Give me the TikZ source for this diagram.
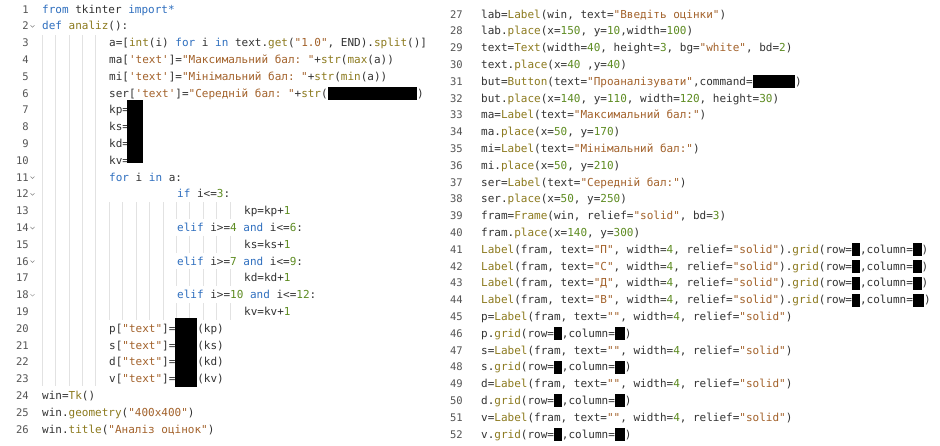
\documentclass[tikz,border=0pt]{standalone}
\usepackage{fontspec}
\setmonofont{DejaVu Sans Mono}
\definecolor{kwc}{HTML}{2F6FBF}
\definecolor{fnc}{HTML}{8C7A1E}
\definecolor{stc}{HTML}{A3622B}
\definecolor{nmc}{HTML}{5E8C22}
\definecolor{txc}{HTML}{333333}
\definecolor{lnc}{HTML}{555555}
\definecolor{gdc}{HTML}{E2E2E2}
\newlength\cw \setlength\cw{6.62pt}
\newcommand\kw[1]{\textcolor{kwc}{#1}}
\newcommand\fn[1]{\textcolor{fnc}{#1}}
\newcommand\st[1]{\textcolor{stc}{#1}}
\newcommand\nm[1]{\textcolor{nmc}{#1}}
\newcommand\rd[1]{\textcolor{black}{\rule[-3pt]{#1\cw}{13pt}}}
\newcommand\gapc[1]{\hspace*{#1\cw}}
\begin{document}
\begin{tikzpicture}[x=1pt,y=-1pt,
  code/.style={anchor=base west,inner sep=0pt,font=\ttfamily\fontsize{11}{13}\selectfont,text=txc},
  lnum/.style={anchor=base east,inner sep=0pt,font=\ttfamily\fontsize{10.5}{13}\selectfont,text=lnc},
  guide/.style={draw=gdc,line width=0.6pt},
  fold/.style={draw=lnc!70,line width=0.5pt},
  redact/.style={fill=black}]
\useasboundingbox (0,0) rectangle (940,445);
\fill[white] (0,0) rectangle (940,445);
% indent guides
\foreach \gx in {42,55,69,82,95} \draw[guide] (\gx,35) -- (\gx,386);
\foreach \gx in {109,122,136,149,163} \draw[guide] (\gx,202) -- (\gx,320);
\foreach \ln in {13,15,17,19}{
  \foreach \gx in {176,189,203,216,230}
    \draw[guide] ({\gx},{9+(\ln-1)*16.8-8.4}) -- ({\gx},{9+(\ln-1)*16.8+8.4});}
% left line numbers
\foreach \ln in {1,...,26} \node[lnum] (L\ln) at (29,{9+(\ln-1)*16.8+4}) {\ln};
\foreach \ln in {2,11,12,14,16,18}
  \draw[fold] (30.5,{9+(\ln-1)*16.8-0.5}) -- (32.5,{9+(\ln-1)*16.8+1.5}) -- (34.5,{9+(\ln-1)*16.8-0.5});
% left code
\def\ly#1{{9+(#1-1)*16.8+4}}
\node[code] (c1) at (42,\ly{1}) {\kw{from} tkinter \kw{import*}};
\node[code] (c2) at (42,\ly{2}) {\kw{def} \fn{analiz}():};
\node[code] (c3) at (109,\ly{3}) {a=[\fn{int}(i) \kw{for} i \kw{in} text.\fn{get}(\st{"1.0"}, END).\fn{split}()]};
\node[code] (c4) at (109,\ly{4}) {ma[\st{'text'}]=\st{"Максимальний бал: "}+\fn{str}(\fn{max}(a))};
\node[code] (c5) at (109,\ly{5}) {mi[\st{'text'}]=\st{"Мінімальний бал: "}+\fn{str}(\fn{min}(a))};
\node[code] (c6) at (109,\ly{6}) {ser[\st{'text'}]=\st{"Середній бал: "}+\fn{str}(\rd{13.5})};
\node[code] (c7) at (109,\ly{7}) {kp=};
\node[code] (c8) at (109,\ly{8}) {ks=};
\node[code] (c9) at (109,\ly{9}) {kd=};
\node[code] (c10) at (109,\ly{10}) {kv=};
\fill[redact] (127,100) rectangle (143,163);
\node[code] (c11) at (109,\ly{11}) {\kw{for} i \kw{in} a:};
\node[code] (c12) at (177,\ly{12}) {\kw{if} i<=\nm{3}:};
\node[code] (c13) at (244,\ly{13}) {kp=kp+\nm{1}};
\node[code] (c14) at (177,\ly{14}) {\kw{elif} i>=\nm{4} \kw{and} i<=\nm{6}:};
\node[code] (c15) at (244,\ly{15}) {ks=ks+\nm{1}};
\node[code] (c16) at (177,\ly{16}) {\kw{elif} i>=\nm{7} \kw{and} i<=\nm{9}:};
\node[code] (c17) at (244,\ly{17}) {kd=kd+\nm{1}};
\node[code] (c18) at (177,\ly{18}) {\kw{elif} i>=\nm{10} \kw{and} i<=\nm{12}:};
\node[code] (c19) at (244,\ly{19}) {kv=kv+\nm{1}};
\node[code] (c20) at (109,\ly{20}) {p[\st{"text"}]=\gapc{3.3}(kp)};
\node[code] (c21) at (109,\ly{21}) {s[\st{"text"}]=\gapc{3.3}(ks)};
\node[code] (c22) at (109,\ly{22}) {d[\st{"text"}]=\gapc{3.3}(kd)};
\node[code] (c23) at (109,\ly{23}) {v[\st{"text"}]=\gapc{3.3}(kv)};
\fill[redact] (175,318) rectangle (197,387);
\node[code] (c24) at (42,\ly{24}) {win=\fn{Tk}()};
\node[code] (c25) at (42,\ly{25}) {win.\fn{geometry}(\st{"400x400"})};
\node[code] (c26) at (42,\ly{26}) {win.\fn{title}(\st{"Аналіз оцінок"})};
% right line numbers
\foreach \ln in {27,...,52} \node[lnum] (R\ln) at (463,{14+(\ln-27)*16.8+4}) {\ln};
\def\ry#1{{14+(#1-27)*16.8+4}}
\node[code] (d27) at (481,\ry{27}) {lab=\fn{Label}(win, text=\st{"Введіть оцінки"})};
\node[code] (d28) at (481,\ry{28}) {lab.\fn{place}(x=\nm{150}, y=\nm{10},width=\nm{100})};
\node[code] (d29) at (481,\ry{29}) {text=\fn{Text}(width=\nm{40}, height=\nm{3}, bg=\st{"white"}, bd=\nm{2})};
\node[code] (d30) at (481,\ry{30}) {text.\fn{place}(x=\nm{40} ,y=\nm{40})};
\node[code] (d31) at (481,\ry{31}) {but=\fn{Button}(text=\st{"Проаналізувати"},command=\rd{6.4})};
\node[code] (d32) at (481,\ry{32}) {but.\fn{place}(x=\nm{140}, y=\nm{110}, width=\nm{120}, height=\nm{30})};
\node[code] (d33) at (481,\ry{33}) {ma=\fn{Label}(text=\st{"Максимальний бал:"})};
\node[code] (d34) at (481,\ry{34}) {ma.\fn{place}(x=\nm{50}, y=\nm{170})};
\node[code] (d35) at (481,\ry{35}) {mi=\fn{Label}(text=\st{"Мінімальний бал:"})};
\node[code] (d36) at (481,\ry{36}) {mi.\fn{place}(x=\nm{50}, y=\nm{210})};
\node[code] (d37) at (481,\ry{37}) {ser=\fn{Label}(text=\st{"Середній бал:"})};
\node[code] (d38) at (481,\ry{38}) {ser.\fn{place}(x=\nm{50}, y=\nm{250})};
\node[code] (d39) at (481,\ry{39}) {fram=\fn{Frame}(win, relief=\st{"solid"}, bd=\nm{3})};
\node[code] (d40) at (481,\ry{40}) {fram.\fn{place}(x=\nm{140}, y=\nm{300})};
\node[code] (d41) at (481,\ry{41}) {\fn{Label}(fram, text=\st{"П"}, width=\nm{4}, relief=\st{"solid"}).\fn{grid}(row=\rd{1.2},column=\rd{1.3})};
\node[code] (d42) at (481,\ry{42}) {\fn{Label}(fram, text=\st{"С"}, width=\nm{4}, relief=\st{"solid"}).\fn{grid}(row=\rd{1.2},column=\rd{1.3})};
\node[code] (d43) at (481,\ry{43}) {\fn{Label}(fram, text=\st{"Д"}, width=\nm{4}, relief=\st{"solid"}).\fn{grid}(row=\rd{1.2},column=\rd{1.3})};
\node[code] (d44) at (481,\ry{44}) {\fn{Label}(fram, text=\st{"В"}, width=\nm{4}, relief=\st{"solid"}).\fn{grid}(row=\rd{1.2},column=\rd{1.7})};
\node[code] (d45) at (481,\ry{45}) {p=\fn{Label}(fram, text=\st{""}, width=\nm{4}, relief=\st{"solid"})};
\node[code] (d46) at (481,\ry{46}) {p.\fn{grid}(row=\rd{1.2},column=\rd{1.5})};
\node[code] (d47) at (481,\ry{47}) {s=\fn{Label}(fram, text=\st{""}, width=\nm{4}, relief=\st{"solid"})};
\node[code] (d48) at (481,\ry{48}) {s.\fn{grid}(row=\rd{1.2},column=\rd{1.5})};
\node[code] (d49) at (481,\ry{49}) {d=\fn{Label}(fram, text=\st{""}, width=\nm{4}, relief=\st{"solid"})};
\node[code] (d50) at (481,\ry{50}) {d.\fn{grid}(row=\rd{1.2},column=\rd{1.5})};
\node[code] (d51) at (481,\ry{51}) {v=\fn{Label}(fram, text=\st{""}, width=\nm{4}, relief=\st{"solid"})};
\node[code] (d52) at (481,\ry{52}) {v.\fn{grid}(row=\rd{1.2},column=\rd{1.5})};
\end{tikzpicture}
\end{document}
